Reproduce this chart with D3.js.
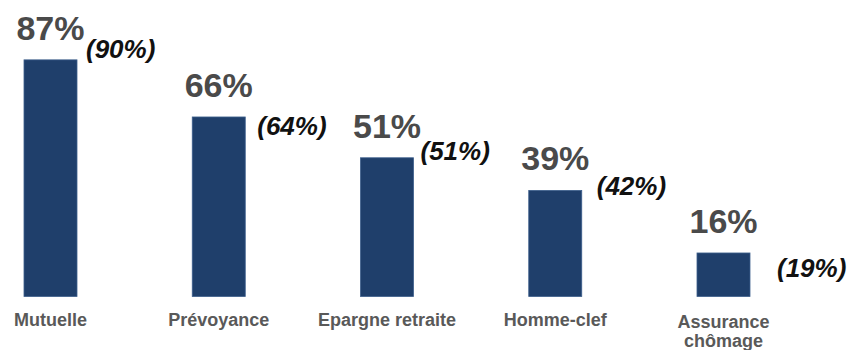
<!DOCTYPE html>
<html>
<head>
<meta charset="utf-8">
<script src="https://cdn.jsdelivr.net/npm/d3@7"></script>
<style>
  html, body { margin: 0; padding: 0; background: #fff; }
  svg { display: block; font-family: "Liberation Sans", Arial, sans-serif; }
</style>
</head>
<body>
<svg id="chart" width="851" height="350"></svg>
<script>
// ---- data ----
const categories = ["Mutuelle", "Prévoyance", "Epargne retraite", "Homme-clef", "Assurance chômage"];
const currentValues = [87, 66, 51, 39, 16];
const previousValues = [90, 64, 51, 42, 19];

// ---- layout (annotation offsets for the previous-value labels, relative to bar top-right) ----
const prevLabelOffsets = [
  { dx: 9, dy: -2 },
  { dx: 12, dy: 18 },
  { dx: 7, dy: 2 },
  { dx: 15, dy: 5 },
  { dx: 27, dy: 24 }
];

const svg = d3.select("#chart");
const baseY = 296.5;

const x = d3.scaleBand()
  .domain(categories)
  .range([24, 750])
  .paddingInner(0.685)
  .paddingOuter(0);

const y = d3.scaleLinear()
  .domain([0, 100])
  .range([baseY, baseY - 272]);

const data = categories.map((c, i) => ({
  cat: c, cur: currentValues[i], prev: previousValues[i], off: prevLabelOffsets[i]
}));

// bars
svg.append("g").selectAll("rect")
  .data(data)
  .join("rect")
  .attr("x", d => x(d.cat))
  .attr("y", d => y(d.cur))
  .attr("width", x.bandwidth())
  .attr("height", d => y(0) - y(d.cur))
  .attr("fill", "#1f3f6b")
  .attr("stroke", "#3d5f8c")
  .attr("stroke-width", 0.8);

// current value labels
svg.append("g").selectAll("text")
  .data(data)
  .join("text")
  .attr("x", d => x(d.cat) + x.bandwidth() / 2)
  .attr("y", d => y(d.cur) - 20)
  .attr("text-anchor", "middle")
  .attr("font-size", 34)
  .attr("font-weight", "bold")
  .attr("fill", "#4a4a4a")
  .text(d => d.cur + "%");

// previous value labels
svg.append("g").selectAll("text")
  .data(data)
  .join("text")
  .attr("x", d => x(d.cat) + x.bandwidth() + d.off.dx)
  .attr("y", d => y(d.cur) + d.off.dy)
  .attr("text-anchor", "start")
  .attr("font-size", 26)
  .attr("font-weight", "bold")
  .attr("font-style", "italic")
  .attr("fill", "#111111")
  .text(d => "(" + d.prev + "%)");

// category axis labels (wrapped when wider than the band step)
const axisG = svg.append("g");
data.forEach(d => {
  const t = axisG.append("text")
    .attr("x", x(d.cat) + x.bandwidth() / 2)
    .attr("y", 326)
    .attr("text-anchor", "middle")
    .attr("font-size", 18)
    .attr("font-weight", "bold")
    .attr("fill", "#595959")
    .text(d.cat);
  if (t.node().getComputedTextLength() > x.step() - 4) {
    const words = d.cat.split(" ");
    t.text(null);
    words.forEach((w, i) => {
      t.append("tspan")
        .attr("x", x(d.cat) + x.bandwidth() / 2)
        .attr("dy", i === 0 ? 2 : 18.5)
        .text(w);
    });
  }
});
</script>
</body>
</html>
